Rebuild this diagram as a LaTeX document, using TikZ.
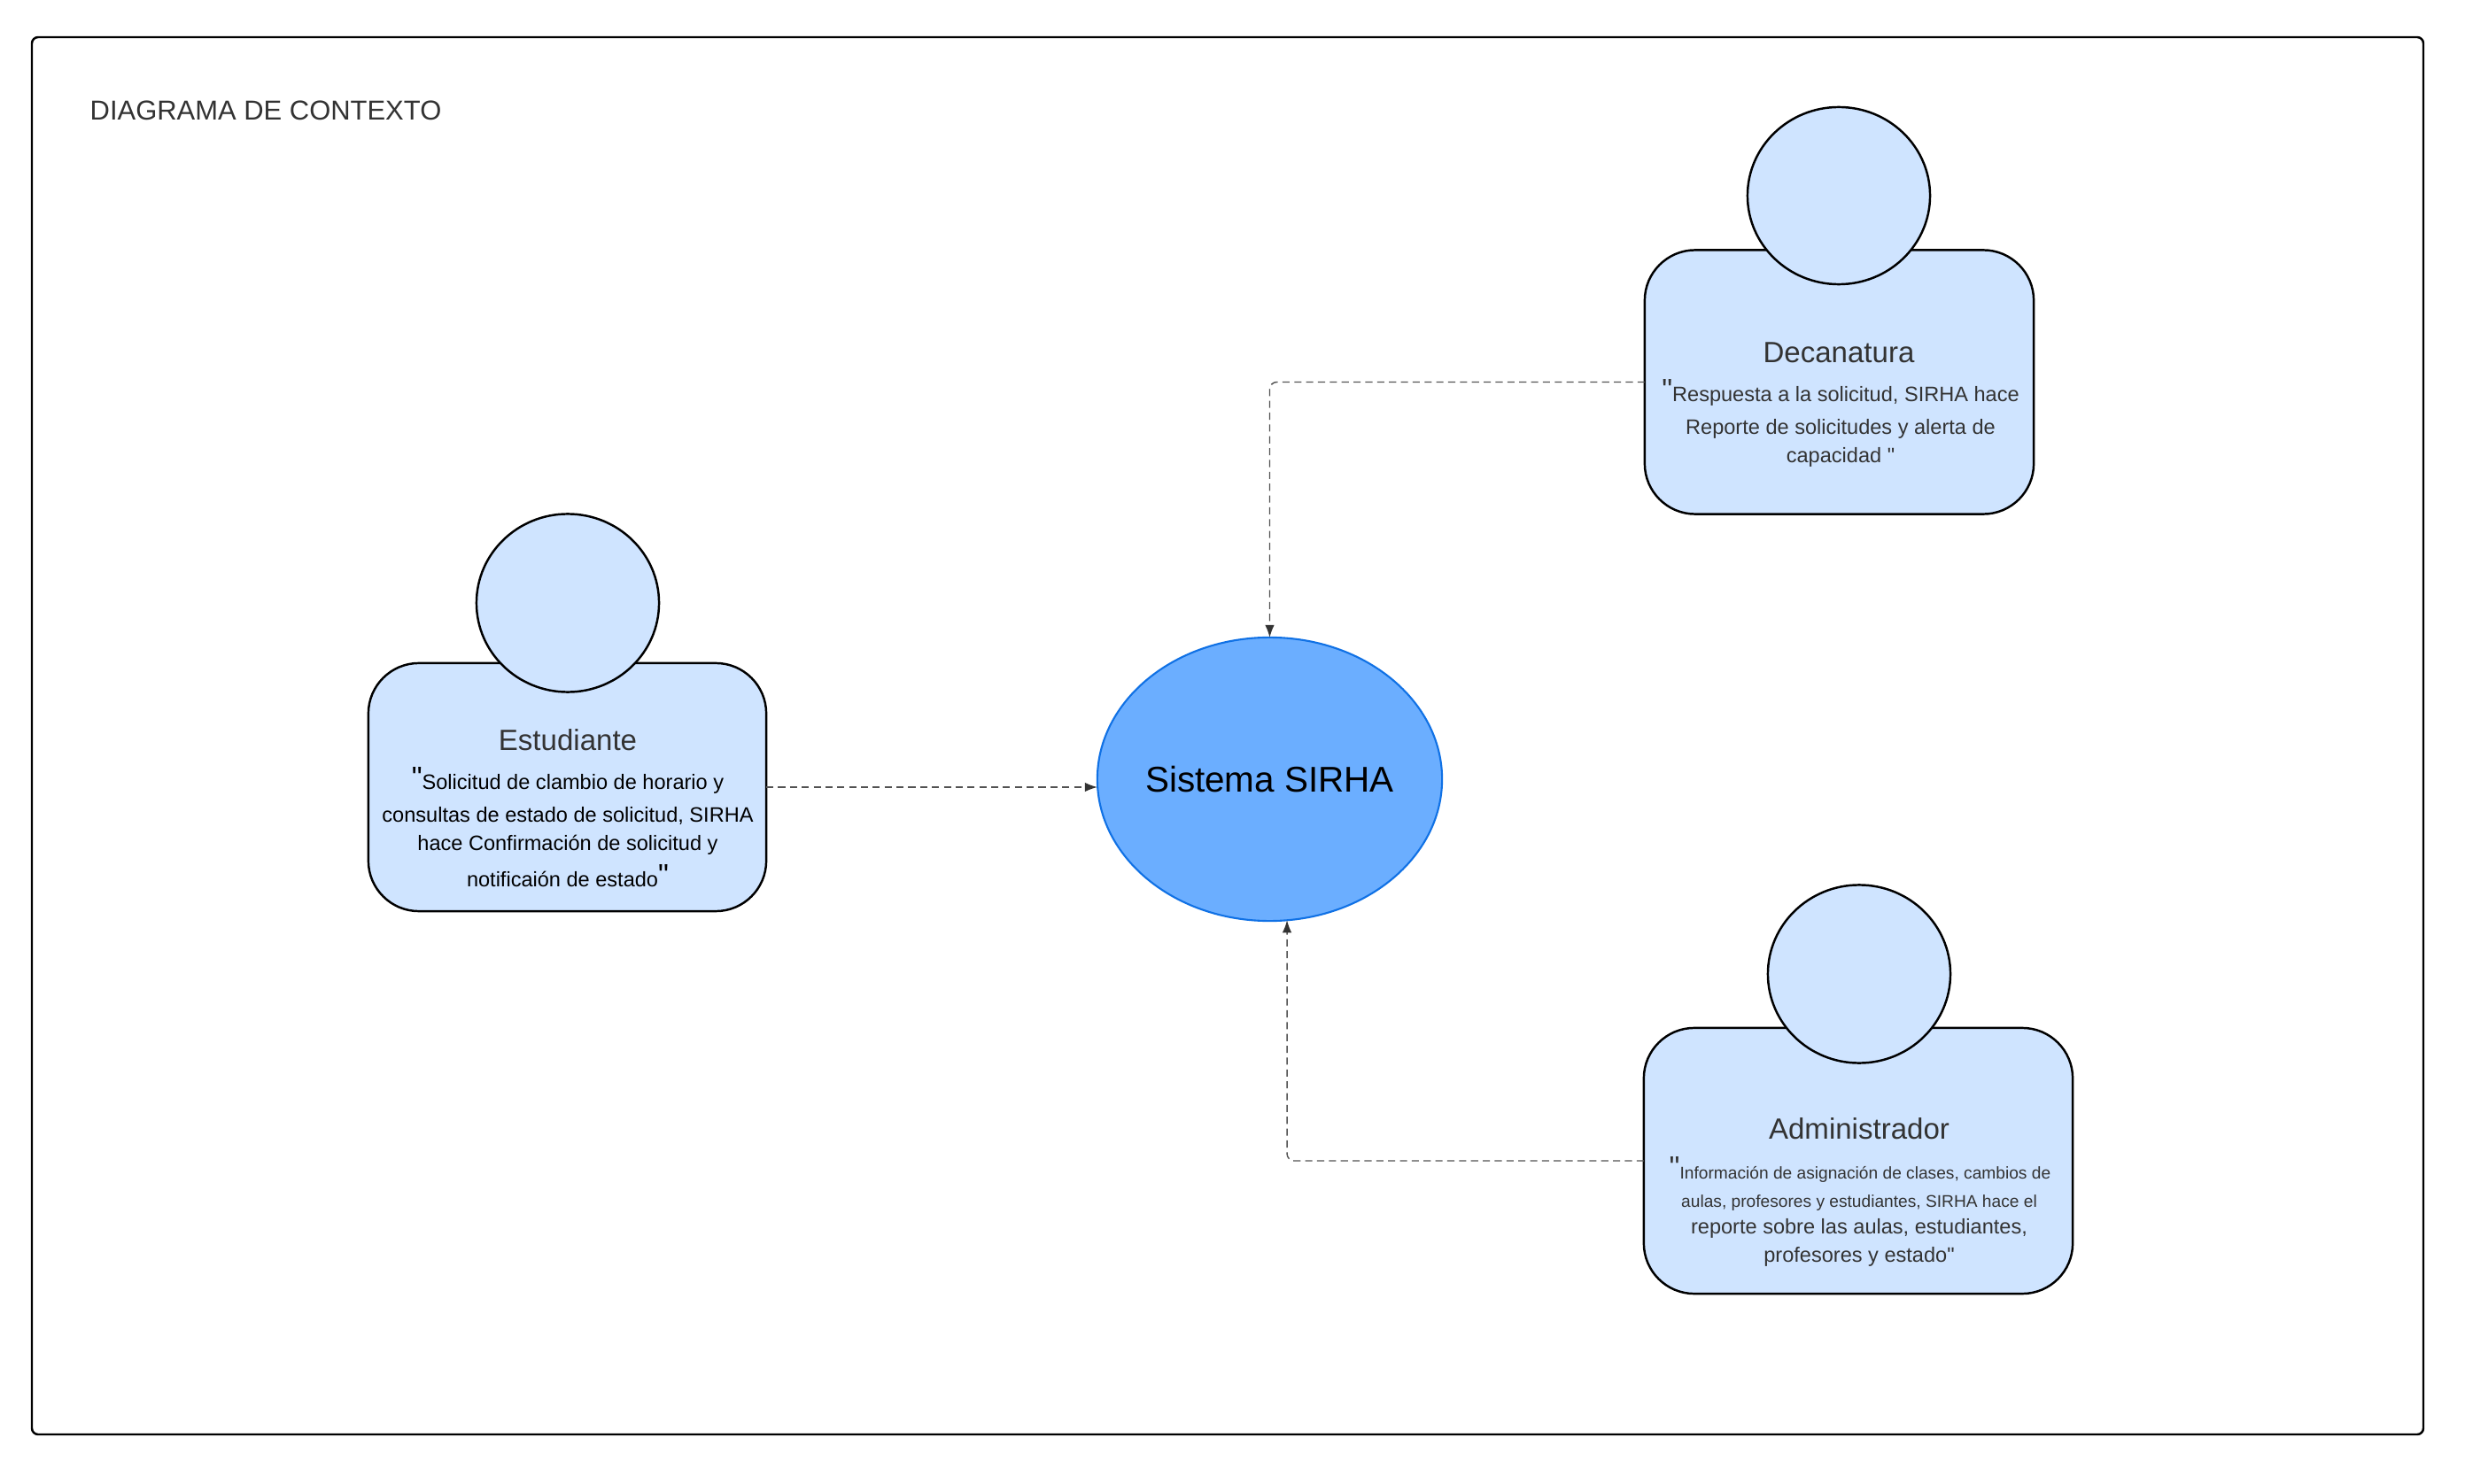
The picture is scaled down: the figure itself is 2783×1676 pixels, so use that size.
\documentclass[tikz,border=0pt]{standalone}
\usepackage{fontspec}
\setmainfont{Liberation Sans}
\newfontfamily\quotefont{Liberation Sans}
\usetikzlibrary{arrows.meta,shapes.geometric}
\definecolor{actorfill}{HTML}{CFE4FF}
\definecolor{sysfill}{HTML}{6BAEFF}
\definecolor{sysline}{HTML}{1071E5}
\definecolor{inktxt}{HTML}{333333}
\newcommand{\plainq}{{\quotefont "}}
\newcommand{\bigq}{\raisebox{0.6pt}{\fontsize{9.5}{9.5}\selectfont\plainq}}
\tikzset{
    actorbody/.style={draw=black, line width=0.7pt, fill=actorfill, rounded corners=0.57cm, inner sep=0pt, outer sep=0pt},
    actorhead/.style={ellipse, draw=black, line width=0.7pt, fill=actorfill, inner sep=0pt, outer sep=0pt},
    actorname/.style={text=inktxt, inner sep=0pt, font=\fontsize{9.4}{11}\selectfont},
    actornote/.style={text=inktxt, inner sep=0pt, text height=5.8pt, text depth=1.4pt, font=\fontsize{6.7}{8}\selectfont},
    flowline/.style={draw=inktxt!85, line width=0.4pt, dash pattern=on 2.3pt off 1.5pt, rounded corners=0.08cm, -{Latex[length=4pt,width=3pt,color=inktxt]}},
}
\begin{document}
\begin{tikzpicture}[x=0.01cm, y=-0.01cm]
    \useasboundingbox (0,0) rectangle (2783,1676);
    \fill[white] (0,0) rectangle (2783,1676);
    \draw[line width=0.7pt, rounded corners=0.07cm] (36,42) rectangle (2736,1620);
    \node[inner sep=0pt, anchor=west, text=inktxt, font=\fontsize{8.8}{10}\selectfont] (title) at (101,125) {DIAGRAMA DE CONTEXTO};

    \node[ellipse, draw=sysline, line width=0.6pt, fill=sysfill, inner sep=0pt, outer sep=0pt, minimum width=3.89cm, minimum height=3.2cm] (sistema) at (1433.5,880) {};
    \node[inner sep=0pt, font=\fontsize{11.5}{14}\selectfont] (sistemaName) at (sistema.center) {Sistema SIRHA};

    % estudiante
    \node[actorbody, minimum width=4.49cm, minimum height=2.8cm] (est) at (640.5,889) {};
    \node[actorhead, minimum width=2.06cm, minimum height=2.01cm] (estHead) at (641,681) {};
    \node[actorname] (estName) at (641,836) {Estudiante};
    \foreach \i/\ypos/\txt in {1/884/{\bigq Solicitud de clambio de horario y},2/921/{consultas de estado de solicitud, SIRHA},3/953/{hace Confirmación de solicitud y},4/994/{notificaión de estado\bigq}} {
        \node[actornote, text=black] (est\i) at (641,\ypos) {\txt};
    }

    % decanatura
    \node[actorbody, minimum width=4.39cm, minimum height=2.98cm] (dec) at (2076.5,431.5) {};
    \node[actorhead, minimum width=2.06cm, minimum height=2.0cm] (decHead) at (2076,221) {};
    \node[actorname] (decName) at (2076,398) {Decanatura};
    \foreach \i/\ypos/\txt in {1/446/{\bigq Respuesta a la solicitud, SIRHA hace},2/483/{Reporte de solicitudes y alerta de},3/515/{capacidad \plainq}} {
        \node[actornote] (dec\i) at (2078,\ypos) {\txt};
    }

    % administrador
    \node[actorbody, minimum width=4.84cm, minimum height=3.0cm] (admin) at (2098,1311) {};
    \node[actorhead, minimum width=2.06cm, minimum height=2.01cm] (adminHead) at (2099,1100) {};
    \node[actorname] (adminName) at (2099,1275) {Administrador};
    \node[actornote, font=\fontsize{5.45}{6}\selectfont] (admin1) at (2100,1324) {\bigq Información de asignación de clases, cambios de};
    \node[actornote, font=\fontsize{5.45}{6}\selectfont] (admin2) at (2099,1356) {aulas, profesores y estudiantes, SIRHA hace el};
    \node[actornote] (admin3) at (2099,1386) {reporte sobre las aulas, estudiantes,};
    \node[actornote] (admin4) at (2099,1418) {profesores y estado\plainq};

    \draw[flowline] (est.east) -- (sistema.west |- est.east);
    \draw[flowline] (dec.west) -| (sistema.north);
    \draw[flowline] (admin.west) -| (sistema.-83);
\end{tikzpicture}
\end{document}
